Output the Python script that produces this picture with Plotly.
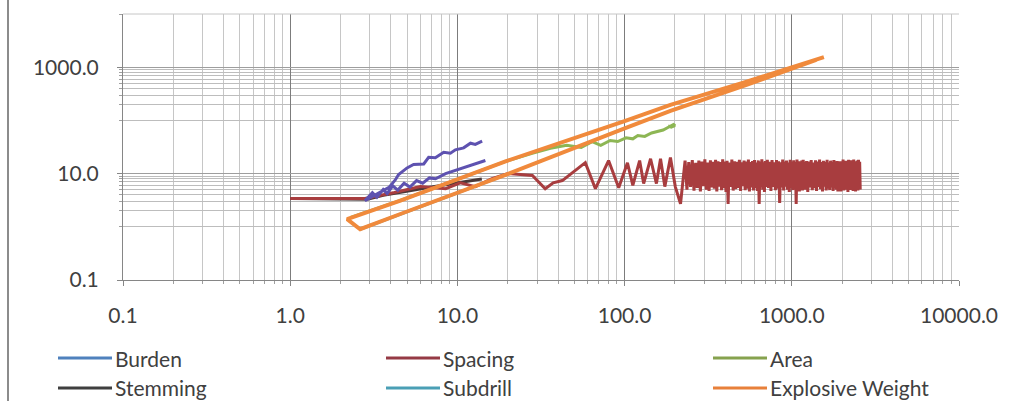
import plotly.graph_objects as go

# ---- figure geometry (pixels) ----
W, H = 1021, 404
ML, MR, MT, MB = 123, 62, 14, 124
PW, PH = W - ML - MR, H - MT - MB

# ---- series data ----
burden_x = [14.06, 12.8, 11.97, 10.9, 9.73, 9.08, 8.28, 7.38, 6.73, 6.29, 5.47, 5.0, 4.45, 4.25,
            3.9, 3.5, 3.2, 2.9, 2.8, 3.1, 3.3, 3.6, 3.8, 4.1, 4.4, 4.8, 5.2, 5.7, 6.2, 6.8, 7.4,
            8.5, 9.8, 11.2, 12.8, 14.7]
burden_y = [40.7, 35.3, 37.3, 30.5, 28.0, 24.2, 25.2, 19.8, 20.3, 15.2, 14.8, 12.8, 9.6, 7.6,
            5.5, 4.6, 4.0, 3.3, 3.1, 4.4, 3.6, 5.0, 4.2, 5.9, 4.9, 6.6, 5.6, 7.4, 6.6, 8.3, 8.0,
            10.0, 11.5, 13.5, 15.3, 17.6]

spacing_x = [1.0, 2.8, 4.2, 6.0, 8.5, 10.4, 12.8, 16.1, 20.1, 28.1, 33.5, 37.4, 42.4, 58.2, 66.9,
             80.2, 92.2, 104, 112, 123, 130, 143, 155, 164, 174, 188, 201, 216, 230,
             236, 242, 248, 254, 260, 266, 272, 278, 284, 290, 296, 302, 308, 314, 320, 326,
             332, 338, 344, 350, 356, 362, 368, 374, 380, 386, 392, 398, 404, 410, 416, 422,
             430, 438, 446, 454, 462, 470, 478, 486, 494, 502, 510, 518, 526, 534, 542, 550,
             558, 566, 574, 582, 590, 598, 606, 614, 622, 630, 638, 646, 654, 662, 670, 678,
             686, 694, 702,
             714, 726, 738, 750, 762, 774, 786, 798, 810, 822, 834, 846, 858, 870, 882, 894,
             906, 918, 930, 942, 954, 966, 978, 990, 1002, 1014, 1026, 1038, 1050, 1062, 1074,
             1086, 1098, 1110, 1122, 1134, 1146, 1158, 1170, 1182, 1194, 1206,
             1226, 1246, 1266, 1286, 1306, 1326, 1346, 1366, 1386, 1406, 1426, 1446, 1466,
             1486, 1506, 1526, 1546, 1566, 1586, 1606, 1626, 1646, 1666, 1686, 1706, 1726,
             1746, 1766, 1786, 1806, 1826, 1846, 1866, 1886, 1906, 1926, 1946, 1966, 1986,
             2006, 2026, 2046, 2066, 2086, 2106, 2126, 2146, 2166, 2186, 2206, 2226, 2246,
             2266, 2286, 2306, 2326, 2346, 2366, 2386, 2406, 2426, 2446, 2466, 2486, 2506,
             2526, 2546, 2566]
spacing_y = [3.4, 3.4, 4.4, 5.7, 5.2, 6.7, 5.7, 8.0, 10.0, 9.2, 5.2, 6.7, 7.4, 16.1, 5.2,
             17.6, 5.4, 16.0, 6.0, 17.6, 6.5, 19.0, 6.5, 19.0, 5.7, 20.0, 5.7, 2.7, 17.6,
             5.0, 16.5, 5.6, 18.0, 4.8, 16.0, 5.4, 17.5, 4.6, 16.8, 5.8, 18.5, 5.0, 16.2, 4.7, 17.8,
             5.5, 16.6, 5.2, 18.2, 4.6, 17.0, 5.7, 16.4, 4.9, 18.6, 5.3, 16.9, 4.5, 17.4, 2.7, 16.1,
             5.6, 18.4, 4.8, 17.1, 5.1, 16.7, 5.4, 18.1, 4.7, 16.3, 5.8, 17.6, 4.9, 16.9, 5.2, 18.3,
             4.6, 16.5, 5.5, 17.3, 4.8, 18.0, 5.3, 16.2, 4.7, 17.7, 2.7, 16.8, 5.7, 18.5, 5.0, 16.4,
             4.5, 17.2, 5.6,
             18.2, 5.4, 16.6, 4.7, 17.9, 5.6, 16.3, 4.9, 18.0, 5.2, 17.0, 2.8, 16.4, 5.5, 18.3, 4.8,
             16.9, 5.7, 17.5, 5.0, 16.2, 4.5, 18.1, 5.3, 16.7, 4.9, 17.8, 5.6, 16.5, 2.7, 18.4,
             5.2, 17.1, 4.6, 16.3, 5.4, 17.6, 4.8, 18.2, 5.8, 16.6, 5.0,
             17.3, 4.5, 16.8, 5.5, 18.0, 4.9, 16.1, 5.3, 17.7, 4.7, 16.9, 5.6, 18.3,
             5.1, 16.4, 4.6, 17.4, 5.7, 16.7, 4.8, 18.1, 5.2, 16.2, 4.9, 17.5, 5.5,
             16.6, 4.7, 18.0, 5.3, 16.8, 5.0, 17.2, 4.6, 16.5, 5.4, 17.0, 4.6, 16.4,
             5.5, 18.3, 4.8, 16.9, 5.7, 17.5, 5.0, 16.2, 4.5, 18.1, 5.3, 16.7, 4.9,
             17.8, 5.6, 16.5, 4.7, 18.4, 5.2, 17.1, 4.6, 16.3, 5.4, 17.6, 4.8, 18.2,
             5.8, 16.6, 5.0]
assert len(spacing_x) == len(spacing_y)

area_x = [2.3, 4.56, 10.0, 19.4, 28.0, 36.0, 45.0, 55.0, 64.0, 72.0, 82.0,
          91.0, 102, 112, 120, 132, 145, 158, 170, 185, 196, 200, 190, 182]
area_y = [1.5, 3.12, 7.8, 17.0, 24.0, 30.0, 34.0, 31.0, 40.0, 34.0, 42.0,
          40.0, 47.0, 45.0, 52.0, 50.0, 58.0, 62.0, 66.0, 76.0, 84.0, 80.0, 75.0, 79.0]

stemming_x = [1.0, 2.9, 3.6, 4.4, 5.5, 7.0, 9.0, 11.5, 14.0]
stemming_y = [3.4, 3.3, 3.9, 4.3, 4.9, 5.6, 6.4, 7.2, 7.9]

subdrill_x = [2.62, 4.56, 10.0, 19.4]
subdrill_y = [0.9, 1.74, 4.36, 9.5]

explosive_x = [1556, 531, 188, 100, 19.4, 4.56, 2.19,
               2.62, 4.56, 19.4, 100, 188, 531, 1400]
explosive_y = [1545, 528, 196, 97, 17.0, 3.12, 1.39,
               0.90, 1.74, 9.5, 71, 151, 461, 1380]

legend_names = ["Burden", "Spacing", "Area", "Stemming", "Subdrill", "Explosive Weight"]
legend_colors = ["#4F81BD", "#953A45", "#86A24E", "#3F3F3F", "#4A9FB5", "#E8803A"]

x_ticks = [0.1, 1, 10, 100, 1000, 10000]
x_ticktext = ["0.1", "1.0", "10.0", "100.0", "1000.0", "10000.0"]
y_ticks = [0.1, 10, 1000]
y_ticktext = ["0.1", "10.0", "1000.0"]

FONT = "Lato"
TXT = "#404040"

fig = go.Figure()

# draw order (bottom to top): name, x, y, colour, width
traces = [
    ("Stemming", stemming_x, stemming_y, "#4A3838", 3),
    ("Subdrill", subdrill_x, subdrill_y, "#4BACC6", 3),
    ("Spacing", spacing_x, spacing_y, "#A83D3F", 3),
    ("Burden", burden_x, burden_y, "#5E52B0", 3),
    ("Area", area_x, area_y, "#8DB654", 3),
    ("Explosive Weight", explosive_x, explosive_y, "#F08A3C", 4),
]
for name, xs, ys, col, lw in traces:
    fig.add_trace(go.Scatter(x=xs, y=ys, mode="lines", name=name, showlegend=False,
                             line=dict(color=col, width=lw), hoverinfo="skip"))

# minor grid positions
x_minor = [d * k for d in [0.1, 1, 10, 100, 1000] for k in range(2, 10)]
y_minor = [k for k in range(1, 10)] + [100 * k for k in range(1, 10)] + [10000]

axis_common = dict(type="log", range=[-1, 4], showline=True, linecolor="#868686", linewidth=1,
                   ticks="outside", ticklen=5, tickcolor="#868686", zeroline=False,
                   tickfont=dict(family=FONT, size=21, color=TXT))

fig.update_xaxes(**axis_common, tickmode="array", tickvals=x_ticks, ticktext=x_ticktext,
                 showgrid=True, gridcolor="#7C7C7C", gridwidth=1, ticklabelstandoff=12,
                 minor=dict(tickmode="array", tickvals=x_minor, showgrid=True,
                            gridcolor="#C6C6C6", gridwidth=1, ticks="outside", ticklen=3,
                            tickcolor="#A0A0A0"))
fig.update_yaxes(**axis_common, tickmode="array", tickvals=y_ticks, ticktext=y_ticktext,
                 showgrid=True, gridcolor="#9E9E9E", gridwidth=1, ticklabelstandoff=14,
                 minor=dict(tickmode="array", tickvals=y_minor, showgrid=True,
                            gridcolor="#BDBDBD", gridwidth=1, ticks="outside", ticklen=3,
                            tickcolor="#A0A0A0"))


def px2paper(px, py):
    return (px - ML) / PW, (H - MB - py) / PH


shapes = []
annotations = []

# outer chart border on the left and plot-area top edge
bx, by0 = px2paper(8, 0)
_, by1 = px2paper(8, 401)
shapes.append(dict(type="line", xref="paper", yref="paper", x0=bx, x1=bx, y0=by0, y1=by1,
                   line=dict(color="#8C8C8C", width=2)))
shapes.append(dict(type="line", xref="paper", yref="paper", x0=0, x1=1, y0=1, y1=1,
                   line=dict(color="#C6C6C6", width=1)))

# legend: 2 rows x 3 columns
col_px = [58, 386, 713]
row_py = [358, 388]
for i, (name, col) in enumerate(zip(legend_names, legend_colors)):
    r, c = divmod(i, 3)
    x0, yy = px2paper(col_px[c], row_py[r])
    x1, _ = px2paper(col_px[c] + 54, row_py[r])
    shapes.append(dict(type="line", xref="paper", yref="paper", x0=x0, x1=x1, y0=yy, y1=yy,
                       line=dict(color=col, width=3)))
    tx, _ = px2paper(col_px[c] + 55, row_py[r])
    annotations.append(dict(x=tx, y=yy, xref="paper", yref="paper", text=name, showarrow=False,
                            xanchor="left", yanchor="middle",
                            font=dict(family=FONT, size=21, color=TXT)))

fig.update_layout(width=W, height=H, margin=dict(l=ML, r=MR, t=MT, b=MB, autoexpand=False),
                  paper_bgcolor="white", plot_bgcolor="white", showlegend=False,
                  shapes=shapes, annotations=annotations)

fig.write_html("out.html")
